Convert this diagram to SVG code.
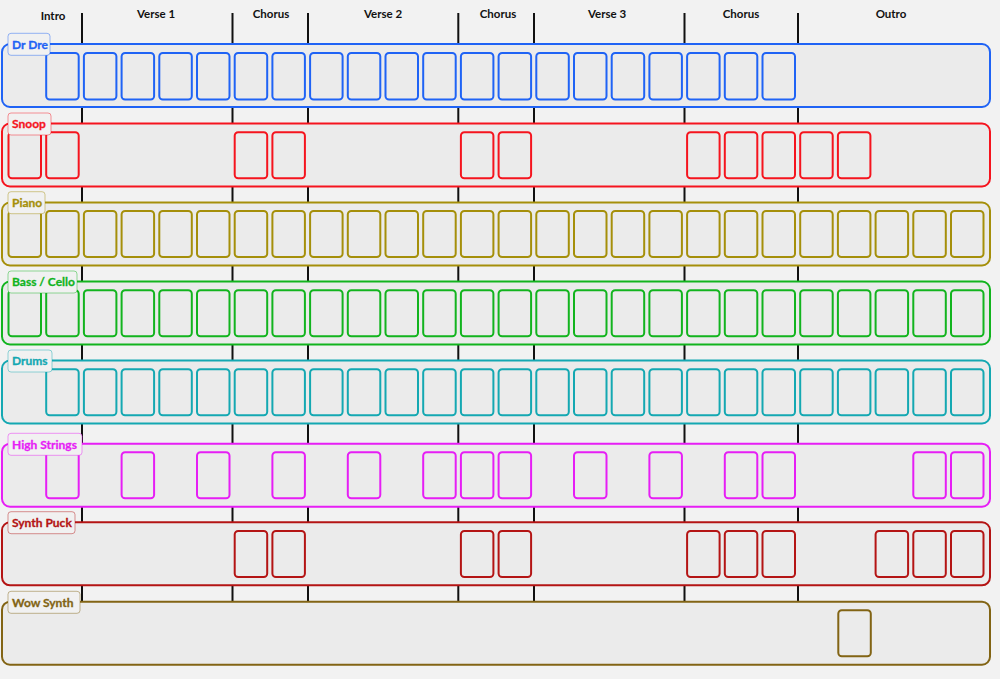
<svg xmlns="http://www.w3.org/2000/svg" width="1000" height="679" viewBox="0 0 1000 679">
<style>
.bg{fill:#f2f2f2}
.sec{font-family:Lato,"Noto Sans","Liberation Sans",sans-serif;font-weight:bold;font-size:11.5px;fill:#111;text-anchor:middle}
.div{stroke:#111;stroke-width:2}
.lane{fill:#ebebeb;stroke-width:2}
.cell{fill:#ebebeb;stroke-width:2}
.lbl{fill:#f1f1f1;stroke-width:1;stroke-opacity:0.45}
.lt{font-family:Lato,"Noto Sans","Liberation Sans",sans-serif;font-weight:bold;font-size:12px;stroke-width:0.3}
#drdre rect{stroke:#1f63f5}#drdre text{fill:#1f63f5;stroke:#1f63f5}
#snoop rect{stroke:#f5141e}#snoop text{fill:#f5141e;stroke:#f5141e}
#piano rect{stroke:#a58f0a}#piano text{fill:#a58f0a;stroke:#a58f0a}
#bass rect{stroke:#12b41e}#bass text{fill:#12b41e;stroke:#12b41e}
#drums rect{stroke:#14a8b2}#drums text{fill:#14a8b2;stroke:#14a8b2}
#strings rect{stroke:#e61ef5}#strings text{fill:#e61ef5;stroke:#e61ef5}
#puck rect{stroke:#b41414}#puck text{fill:#b41414;stroke:#b41414}
#wow rect{stroke:#826414}#wow text{fill:#826414;stroke:#826414}
</style>
<rect class="bg" x="0" y="0" width="1000" height="679"/>
<g id="sections">
<text class="sec" x="53" y="20">Intro</text>
<text class="sec" x="156" y="18.3">Verse 1</text>
<text class="sec" x="271" y="17.5">Chorus</text>
<text class="sec" x="383" y="18.3">Verse 2</text>
<text class="sec" x="498" y="17.5">Chorus</text>
<text class="sec" x="607" y="18.3">Verse 3</text>
<text class="sec" x="741" y="17.5">Chorus</text>
<text class="sec" x="891" y="17.5">Outro</text>
</g>
<g id="connectors">
<line class="div" x1="82" y1="13" x2="82" y2="602"/>
<line class="div" x1="232.5" y1="13" x2="232.5" y2="602"/>
<line class="div" x1="308" y1="13" x2="308" y2="602"/>
<line class="div" x1="458.3" y1="13" x2="458.3" y2="602"/>
<line class="div" x1="534" y1="13" x2="534" y2="602"/>
<line class="div" x1="684.5" y1="13" x2="684.5" y2="602"/>
<line class="div" x1="798" y1="13" x2="798" y2="602"/>
</g>
<g id="drdre">
<rect class="lane" x="2" y="44" width="988" height="63" rx="8"/>
<g transform="translate(0,53)">
<rect class="cell" x="46.2" width="32.5" height="46.5" rx="3.5"/><rect class="cell" x="83.9" width="32.5" height="46.5" rx="3.5"/><rect class="cell" x="121.6" width="32.5" height="46.5" rx="3.5"/><rect class="cell" x="159.3" width="32.5" height="46.5" rx="3.5"/><rect class="cell" x="197" width="32.5" height="46.5" rx="3.5"/><rect class="cell" x="234.7" width="32.5" height="46.5" rx="3.5"/><rect class="cell" x="272.4" width="32.5" height="46.5" rx="3.5"/><rect class="cell" x="310.1" width="32.5" height="46.5" rx="3.5"/><rect class="cell" x="347.8" width="32.5" height="46.5" rx="3.5"/><rect class="cell" x="385.5" width="32.5" height="46.5" rx="3.5"/><rect class="cell" x="423.2" width="32.5" height="46.5" rx="3.5"/><rect class="cell" x="460.9" width="32.5" height="46.5" rx="3.5"/><rect class="cell" x="498.6" width="32.5" height="46.5" rx="3.5"/><rect class="cell" x="536.3" width="32.5" height="46.5" rx="3.5"/><rect class="cell" x="574" width="32.5" height="46.5" rx="3.5"/><rect class="cell" x="611.7" width="32.5" height="46.5" rx="3.5"/><rect class="cell" x="649.4" width="32.5" height="46.5" rx="3.5"/><rect class="cell" x="687.1" width="32.5" height="46.5" rx="3.5"/><rect class="cell" x="724.8" width="32.5" height="46.5" rx="3.5"/><rect class="cell" x="762.5" width="32.5" height="46.5" rx="3.5"/>
</g>
<rect class="lbl" x="8" y="33.3" width="42" height="22" rx="3"/>
<text class="lt" x="12" y="48.5">Dr Dre</text>
</g>
<g id="snoop">
<rect class="lane" x="2" y="123.5" width="988" height="63" rx="8"/>
<g transform="translate(0,132.3)">
<rect class="cell" x="8.5" width="32.5" height="46" rx="3.5"/><rect class="cell" x="46.2" width="32.5" height="46" rx="3.5"/><rect class="cell" x="234.7" width="32.5" height="46" rx="3.5"/><rect class="cell" x="272.4" width="32.5" height="46" rx="3.5"/><rect class="cell" x="460.9" width="32.5" height="46" rx="3.5"/><rect class="cell" x="498.6" width="32.5" height="46" rx="3.5"/><rect class="cell" x="687.1" width="32.5" height="46" rx="3.5"/><rect class="cell" x="724.8" width="32.5" height="46" rx="3.5"/><rect class="cell" x="762.5" width="32.5" height="46" rx="3.5"/><rect class="cell" x="800.2" width="32.5" height="46" rx="3.5"/><rect class="cell" x="837.9" width="32.5" height="46" rx="3.5"/>
</g>
<rect class="lbl" x="8" y="113" width="43" height="22" rx="3"/>
<text class="lt" x="12" y="128">Snoop</text>
</g>
<g id="piano">
<rect class="lane" x="2" y="202.5" width="988" height="63" rx="8"/>
<g transform="translate(0,211)">
<rect class="cell" x="8.5" width="32.5" height="46" rx="3.5"/><rect class="cell" x="46.2" width="32.5" height="46" rx="3.5"/><rect class="cell" x="83.9" width="32.5" height="46" rx="3.5"/><rect class="cell" x="121.6" width="32.5" height="46" rx="3.5"/><rect class="cell" x="159.3" width="32.5" height="46" rx="3.5"/><rect class="cell" x="197" width="32.5" height="46" rx="3.5"/><rect class="cell" x="234.7" width="32.5" height="46" rx="3.5"/><rect class="cell" x="272.4" width="32.5" height="46" rx="3.5"/><rect class="cell" x="310.1" width="32.5" height="46" rx="3.5"/><rect class="cell" x="347.8" width="32.5" height="46" rx="3.5"/><rect class="cell" x="385.5" width="32.5" height="46" rx="3.5"/><rect class="cell" x="423.2" width="32.5" height="46" rx="3.5"/><rect class="cell" x="460.9" width="32.5" height="46" rx="3.5"/><rect class="cell" x="498.6" width="32.5" height="46" rx="3.5"/><rect class="cell" x="536.3" width="32.5" height="46" rx="3.5"/><rect class="cell" x="574" width="32.5" height="46" rx="3.5"/><rect class="cell" x="611.7" width="32.5" height="46" rx="3.5"/><rect class="cell" x="649.4" width="32.5" height="46" rx="3.5"/><rect class="cell" x="687.1" width="32.5" height="46" rx="3.5"/><rect class="cell" x="724.8" width="32.5" height="46" rx="3.5"/><rect class="cell" x="762.5" width="32.5" height="46" rx="3.5"/><rect class="cell" x="800.2" width="32.5" height="46" rx="3.5"/><rect class="cell" x="837.9" width="32.5" height="46" rx="3.5"/><rect class="cell" x="875.6" width="32.5" height="46" rx="3.5"/><rect class="cell" x="913.3" width="32.5" height="46" rx="3.5"/><rect class="cell" x="951" width="32.5" height="46" rx="3.5"/>
</g>
<rect class="lbl" x="8" y="191.7" width="37" height="22" rx="3"/>
<text class="lt" x="12" y="207">Piano</text>
</g>
<g id="bass">
<rect class="lane" x="2" y="281.5" width="988" height="63" rx="8"/>
<g transform="translate(0,290.2)">
<rect class="cell" x="8.5" width="32.5" height="46" rx="3.5"/><rect class="cell" x="46.2" width="32.5" height="46" rx="3.5"/><rect class="cell" x="83.9" width="32.5" height="46" rx="3.5"/><rect class="cell" x="121.6" width="32.5" height="46" rx="3.5"/><rect class="cell" x="159.3" width="32.5" height="46" rx="3.5"/><rect class="cell" x="197" width="32.5" height="46" rx="3.5"/><rect class="cell" x="234.7" width="32.5" height="46" rx="3.5"/><rect class="cell" x="272.4" width="32.5" height="46" rx="3.5"/><rect class="cell" x="310.1" width="32.5" height="46" rx="3.5"/><rect class="cell" x="347.8" width="32.5" height="46" rx="3.5"/><rect class="cell" x="385.5" width="32.5" height="46" rx="3.5"/><rect class="cell" x="423.2" width="32.5" height="46" rx="3.5"/><rect class="cell" x="460.9" width="32.5" height="46" rx="3.5"/><rect class="cell" x="498.6" width="32.5" height="46" rx="3.5"/><rect class="cell" x="536.3" width="32.5" height="46" rx="3.5"/><rect class="cell" x="574" width="32.5" height="46" rx="3.5"/><rect class="cell" x="611.7" width="32.5" height="46" rx="3.5"/><rect class="cell" x="649.4" width="32.5" height="46" rx="3.5"/><rect class="cell" x="687.1" width="32.5" height="46" rx="3.5"/><rect class="cell" x="724.8" width="32.5" height="46" rx="3.5"/><rect class="cell" x="762.5" width="32.5" height="46" rx="3.5"/><rect class="cell" x="800.2" width="32.5" height="46" rx="3.5"/><rect class="cell" x="837.9" width="32.5" height="46" rx="3.5"/><rect class="cell" x="875.6" width="32.5" height="46" rx="3.5"/><rect class="cell" x="913.3" width="32.5" height="46" rx="3.5"/><rect class="cell" x="951" width="32.5" height="46" rx="3.5"/>
</g>
<rect class="lbl" x="8" y="271" width="69" height="22" rx="3"/>
<text class="lt" x="12" y="286">Bass / Cello</text>
</g>
<g id="drums">
<rect class="lane" x="2" y="360.5" width="988" height="63" rx="8"/>
<g transform="translate(0,369.2)">
<rect class="cell" x="46.2" width="32.5" height="46" rx="3.5"/><rect class="cell" x="83.9" width="32.5" height="46" rx="3.5"/><rect class="cell" x="121.6" width="32.5" height="46" rx="3.5"/><rect class="cell" x="159.3" width="32.5" height="46" rx="3.5"/><rect class="cell" x="197" width="32.5" height="46" rx="3.5"/><rect class="cell" x="234.7" width="32.5" height="46" rx="3.5"/><rect class="cell" x="272.4" width="32.5" height="46" rx="3.5"/><rect class="cell" x="310.1" width="32.5" height="46" rx="3.5"/><rect class="cell" x="347.8" width="32.5" height="46" rx="3.5"/><rect class="cell" x="385.5" width="32.5" height="46" rx="3.5"/><rect class="cell" x="423.2" width="32.5" height="46" rx="3.5"/><rect class="cell" x="460.9" width="32.5" height="46" rx="3.5"/><rect class="cell" x="498.6" width="32.5" height="46" rx="3.5"/><rect class="cell" x="536.3" width="32.5" height="46" rx="3.5"/><rect class="cell" x="574" width="32.5" height="46" rx="3.5"/><rect class="cell" x="611.7" width="32.5" height="46" rx="3.5"/><rect class="cell" x="649.4" width="32.5" height="46" rx="3.5"/><rect class="cell" x="687.1" width="32.5" height="46" rx="3.5"/><rect class="cell" x="724.8" width="32.5" height="46" rx="3.5"/><rect class="cell" x="762.5" width="32.5" height="46" rx="3.5"/><rect class="cell" x="800.2" width="32.5" height="46" rx="3.5"/><rect class="cell" x="837.9" width="32.5" height="46" rx="3.5"/><rect class="cell" x="875.6" width="32.5" height="46" rx="3.5"/><rect class="cell" x="913.3" width="32.5" height="46" rx="3.5"/><rect class="cell" x="951" width="32.5" height="46" rx="3.5"/>
</g>
<rect class="lbl" x="8" y="350" width="44" height="22" rx="3"/>
<text class="lt" x="12" y="365">Drums</text>
</g>
<g id="strings">
<rect class="lane" x="2" y="443.7" width="988" height="63" rx="8"/>
<g transform="translate(0,452.3)">
<rect class="cell" x="46.2" width="32.5" height="46" rx="3.5"/><rect class="cell" x="121.6" width="32.5" height="46" rx="3.5"/><rect class="cell" x="197" width="32.5" height="46" rx="3.5"/><rect class="cell" x="272.4" width="32.5" height="46" rx="3.5"/><rect class="cell" x="347.8" width="32.5" height="46" rx="3.5"/><rect class="cell" x="423.2" width="32.5" height="46" rx="3.5"/><rect class="cell" x="460.9" width="32.5" height="46" rx="3.5"/><rect class="cell" x="498.6" width="32.5" height="46" rx="3.5"/><rect class="cell" x="574" width="32.5" height="46" rx="3.5"/><rect class="cell" x="649.4" width="32.5" height="46" rx="3.5"/><rect class="cell" x="724.8" width="32.5" height="46" rx="3.5"/><rect class="cell" x="762.5" width="32.5" height="46" rx="3.5"/><rect class="cell" x="913.3" width="32.5" height="46" rx="3.5"/><rect class="cell" x="951" width="32.5" height="46" rx="3.5"/>
</g>
<rect class="lbl" x="8" y="433.3" width="74" height="22" rx="3"/>
<text class="lt" x="12" y="448.5">High Strings</text>
</g>
<g id="puck">
<rect class="lane" x="2" y="522.3" width="988" height="63" rx="8"/>
<g transform="translate(0,531)">
<rect class="cell" x="234.7" width="32.5" height="46" rx="3.5"/><rect class="cell" x="272.4" width="32.5" height="46" rx="3.5"/><rect class="cell" x="460.9" width="32.5" height="46" rx="3.5"/><rect class="cell" x="498.6" width="32.5" height="46" rx="3.5"/><rect class="cell" x="687.1" width="32.5" height="46" rx="3.5"/><rect class="cell" x="724.8" width="32.5" height="46" rx="3.5"/><rect class="cell" x="762.5" width="32.5" height="46" rx="3.5"/><rect class="cell" x="875.6" width="32.5" height="46" rx="3.5"/><rect class="cell" x="913.3" width="32.5" height="46" rx="3.5"/><rect class="cell" x="951" width="32.5" height="46" rx="3.5"/>
</g>
<rect class="lbl" x="8" y="511.7" width="67" height="22" rx="3"/>
<text class="lt" x="12" y="527">Synth Puck</text>
</g>
<g id="wow">
<rect class="lane" x="2" y="601.7" width="988" height="63" rx="8"/>
<rect class="cell" x="838.3" y="610.3" width="32.5" height="46" rx="3.5"/>
<rect class="lbl" x="8" y="591.3" width="72" height="22" rx="3"/>
<text class="lt" x="12" y="606.5">Wow Synth</text>
</g>
</svg>
